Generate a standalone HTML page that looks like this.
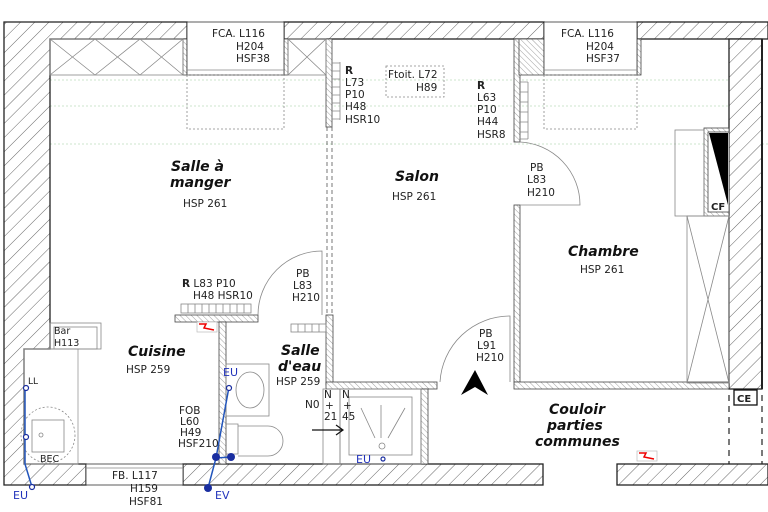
<!DOCTYPE html>
<html><head><meta charset="utf-8"><style>
html,body{margin:0;padding:0;background:#fff;}
svg{display:block;}
text{font-family:"DejaVu Sans","Liberation Sans",sans-serif;font-size:10.5px;fill:#222;}
.r{font-weight:bold;font-style:italic;font-size:14px;fill:#111;}
.b{fill:#2233bb;font-size:11px;}
</style></head><body>
<svg width="768" height="512" viewBox="0 0 768 512" xmlns="http://www.w3.org/2000/svg">
<defs>
<pattern id="h" width="10" height="10" patternUnits="userSpaceOnUse" patternTransform="rotate(45)">
<rect width="10" height="10" fill="#fff"/><line x1="0" y1="0" x2="0" y2="10" stroke="#666" stroke-width="1"/>
</pattern>
<pattern id="h2" width="4" height="4" patternUnits="userSpaceOnUse" patternTransform="rotate(-45)">
<rect width="4" height="4" fill="#fff"/><line x1="0" y1="0" x2="0" y2="4" stroke="#888" stroke-width="0.8"/>
</pattern>
</defs>
<g stroke="#9c9" stroke-width="0.6" stroke-dasharray="2,2" fill="none">
<line x1="50" y1="80" x2="729" y2="80"/><line x1="50" y1="106" x2="729" y2="106"/><line x1="50" y1="144" x2="768" y2="144"/>
</g>
<g fill="url(#h)" stroke="#222" stroke-width="1.3">
<path d="M4,22 H187 V39 H50 V349 H24 V464 H86 V485 H4 Z"/>
<rect x="284" y="22" width="260" height="17"/>
<rect x="637" y="22" width="131" height="17"/>
<rect x="729" y="39" width="33" height="350"/>
<rect x="183" y="464" width="360" height="21"/>
<rect x="617" y="464" width="151" height="21"/>
</g>
<line x1="762" y1="39" x2="762" y2="389" stroke="#222" stroke-width="2"/>
<g stroke="#222" stroke-width="1.2" stroke-dasharray="6,5"><line x1="729" y1="395" x2="729" y2="464"/><line x1="762" y1="395" x2="762" y2="464"/></g>
<g fill="url(#h2)" stroke="#444" stroke-width="0.8">
<rect x="326" y="39" width="6" height="88"/>
<rect x="326" y="315" width="7" height="70"/>
<rect x="326" y="382" width="111" height="7"/>
<rect x="421" y="389" width="7" height="75"/>
<rect x="514" y="39" width="6" height="103"/>
<rect x="514" y="205" width="6" height="177"/>
<rect x="514" y="382" width="215" height="7"/>
<rect x="175" y="315" width="83" height="7"/>
<rect x="219" y="322" width="7" height="142"/>
<rect x="519" y="39" width="25" height="36"/>
<rect x="183" y="39" width="4" height="36"/><rect x="284" y="39" width="4" height="36"/>
<rect x="637" y="39" width="4" height="36"/>
<rect x="704" y="128" width="25" height="88"/>
</g>
<rect x="708" y="132" width="21" height="80" fill="#fff" stroke="#444" stroke-width="0.8"/>
<path d="M709,133 L728,133 L728,205 Z" fill="#000"/>
<text x="711" y="210" style="font-weight:bold;font-size:10px">CF</text>
<g stroke="#555" stroke-width="0.8" stroke-dasharray="4,3"><line x1="327" y1="127" x2="327" y2="315"/><line x1="332" y1="127" x2="332" y2="315"/></g>
<g fill="none" stroke="#888" stroke-width="0.8">
<rect x="187" y="22" width="97" height="53" fill="#fff" stroke="#333"/>
<line x1="187" y1="70" x2="284" y2="70"/>
<rect x="187" y="75" width="97" height="54" stroke-dasharray="2,2"/>
<rect x="544" y="22" width="93" height="53" fill="#fff" stroke="#333"/>
<line x1="544" y1="70" x2="637" y2="70"/>
<rect x="544" y="75" width="93" height="54" stroke-dasharray="2,2"/>
<rect x="86" y="464" width="97" height="21" fill="#fff" stroke="#333"/>
<line x1="86" y1="468" x2="183" y2="468"/>
<rect x="50" y="39" width="133" height="36"/>
<path d="M50,39 L95,75 M95,39 L50,75 M95,39 L140,75 M140,39 L95,75 M140,39 L183,75 M183,39 L140,75"/>
<rect x="288" y="39" width="38" height="36"/><path d="M288,39 L326,75 M326,39 L288,75"/>
<rect x="687" y="216" width="42" height="167"/><path d="M687,216 L729,383 M729,216 L687,383"/>
<rect x="675" y="130" width="29" height="86"/>
<path d="M520,142 A63,63 0 0 1 580,205 L520,205"/>
<path d="M440,382 A70,70 0 0 1 510,316 L510,382"/>
<path d="M258,315 A64,64 0 0 1 322,251 L322,315"/>
<path d="M332,63 h8 M332,71 h8 M332,79 h8 M332,87 h8 M332,95 h8 M332,103 h8 M332,111 h8 M332,119 h8 M340,62 v58"/>
<path d="M520,82 h8 M520,92 h8 M520,102 h8 M520,112 h8 M520,122 h8 M520,132 h8 M520,139 h8 M528,82 v57"/>
<rect x="181" y="304" width="70" height="9"/><path d="M188,304 v9 M195,304 v9 M202,304 v9 M209,304 v9 M216,304 v9 M223,304 v9 M230,304 v9 M237,304 v9 M244,304 v9"/>
<rect x="291" y="324" width="35" height="8"/><path d="M298,324 v8 M305,324 v8 M312,324 v8 M319,324 v8"/>
<rect x="386" y="66" width="58" height="31" stroke-dasharray="2,2"/>
<rect x="24" y="349" width="54" height="115" stroke="#999"/>
<rect x="50" y="323" width="51" height="26"/><rect x="54" y="327" width="43" height="22"/>
<ellipse cx="48" cy="435" rx="27" ry="28" stroke-dasharray="2,2"/>
<rect x="32" y="420" width="32" height="32"/><circle cx="41" cy="435" r="2"/>
<rect x="226" y="364" width="43" height="52"/><ellipse cx="250" cy="390" rx="14" ry="18"/>
<path d="M226,424 h12 v30 h-12 M238,426 h30 a15,15 0 0 1 0,30 h-30"/>
<rect x="323" y="389" width="17" height="75"/><rect x="340" y="389" width="81" height="75"/>
<rect x="349" y="397" width="63" height="58"/>
<path d="M361,408 L375,438 M381,405 L381,438 M405,408 L388,438"/><circle cx="382" cy="446" r="3"/>
</g>
<rect x="734" y="390" width="23" height="15" fill="#fff" stroke="#111" stroke-width="1.3"/>
<text x="737" y="402" style="font-weight:bold;font-size:10px">CE</text>
<path d="M475,370 L488,395 L475,387 L461,395 Z" fill="#000"/>
<path d="M312,430 H343 M336,425 L343,430 L336,435" stroke="#111" fill="none" stroke-width="1.2"/>
<rect x="197" y="322" width="20" height="10" fill="#fff" stroke="#bbb" stroke-width="0.7"/>
<path d="M199,324 L206,324 L204,328 L214,330" stroke="#e00" fill="none" stroke-width="1.5"/>
<rect x="637" y="451" width="20" height="10" fill="#fff" stroke="#bbb" stroke-width="0.7"/>
<path d="M639,453 L646,453 L644,457 L654,459" stroke="#e00" fill="none" stroke-width="1.5"/>
<g stroke="#2255bb" stroke-width="1.5" fill="none">
<path d="M25,388 L25,464 L32,487"/>
<path d="M229,387 L216,458 L208,488 M216,458 L231,457"/>
</g>
<g fill="#fff" stroke="#1a2ea0" stroke-width="1.2"><circle cx="26" cy="388" r="2.5"/><circle cx="26" cy="437" r="2.5"/><circle cx="32" cy="487" r="2.5"/><circle cx="229" cy="388" r="2.5"/><circle cx="383" cy="459" r="2"/></g>
<g fill="#1a2ea0"><circle cx="216" cy="457" r="4"/><circle cx="231" cy="457" r="4"/><circle cx="208" cy="488" r="4"/></g>
<text class="b" x="13" y="499">EU</text>
<text class="b" x="215" y="499">EV</text>
<text class="b" x="223" y="376">EU</text>
<text class="b" x="356" y="463">EU</text>
<text x="212" y="37">FCA. L116</text><text x="236" y="50">H204</text><text x="236" y="62">HSF38</text>
<text x="561" y="37">FCA. L116</text><text x="586" y="50">H204</text><text x="586" y="62">HSF37</text>
<text x="345" y="74" style="font-weight:bold">R</text><text x="345" y="86">L73</text><text x="345" y="98">P10</text><text x="345" y="110">H48</text><text x="345" y="123">HSR10</text>
<text x="388" y="78">Ftoit. L72</text><text x="416" y="91">H89</text>
<text x="477" y="89" style="font-weight:bold">R</text><text x="477" y="101">L63</text><text x="477" y="113">P10</text><text x="477" y="125">H44</text><text x="477" y="138">HSR8</text>
<text x="530" y="171">PB</text><text x="527" y="183">L83</text><text x="527" y="196">H210</text>
<text class="r" x="171" y="171">Salle à</text><text class="r" x="170" y="187">manger</text><text x="183" y="207">HSP 261</text>
<text class="r" x="395" y="181">Salon</text><text x="392" y="200">HSP 261</text>
<text class="r" x="568" y="256">Chambre</text><text x="580" y="273">HSP 261</text>
<text x="182" y="287"><tspan style="font-weight:bold">R</tspan> L83 P10</text><text x="193" y="299">H48 HSR10</text>
<text x="296" y="277">PB</text><text x="293" y="289">L83</text><text x="292" y="301">H210</text>
<text x="54" y="334" style="font-size:9.5px">Bar</text><text x="54" y="346" style="font-size:9.5px">H113</text>
<text class="r" x="128" y="356">Cuisine</text><text x="126" y="373">HSP 259</text>
<text class="r" x="281" y="355">Salle</text><text class="r" x="278" y="371">d'eau</text><text x="276" y="385">HSP 259</text>
<text x="28" y="384" style="font-size:9px">LL</text>
<text x="40" y="462" style="font-size:9.5px">BEC</text>
<text x="179" y="414">FOB</text><text x="180" y="425">L60</text><text x="180" y="436">H49</text><text x="178" y="447">HSF210</text>
<text x="305" y="408">N0</text>
<text x="324" y="398">N</text><text x="325" y="409">+</text><text x="324" y="420">21</text>
<text x="342" y="398">N</text><text x="343" y="409">+</text><text x="342" y="420">45</text>
<text x="479" y="337">PB</text><text x="477" y="349">L91</text><text x="476" y="361">H210</text>
<text class="r" x="549" y="414">Couloir</text><text class="r" x="547" y="430">parties</text><text class="r" x="535" y="446">communes</text>
<text x="112" y="479">FB. L117</text><text x="130" y="492">H159</text><text x="129" y="505">HSF81</text>
</svg>
</body></html>
